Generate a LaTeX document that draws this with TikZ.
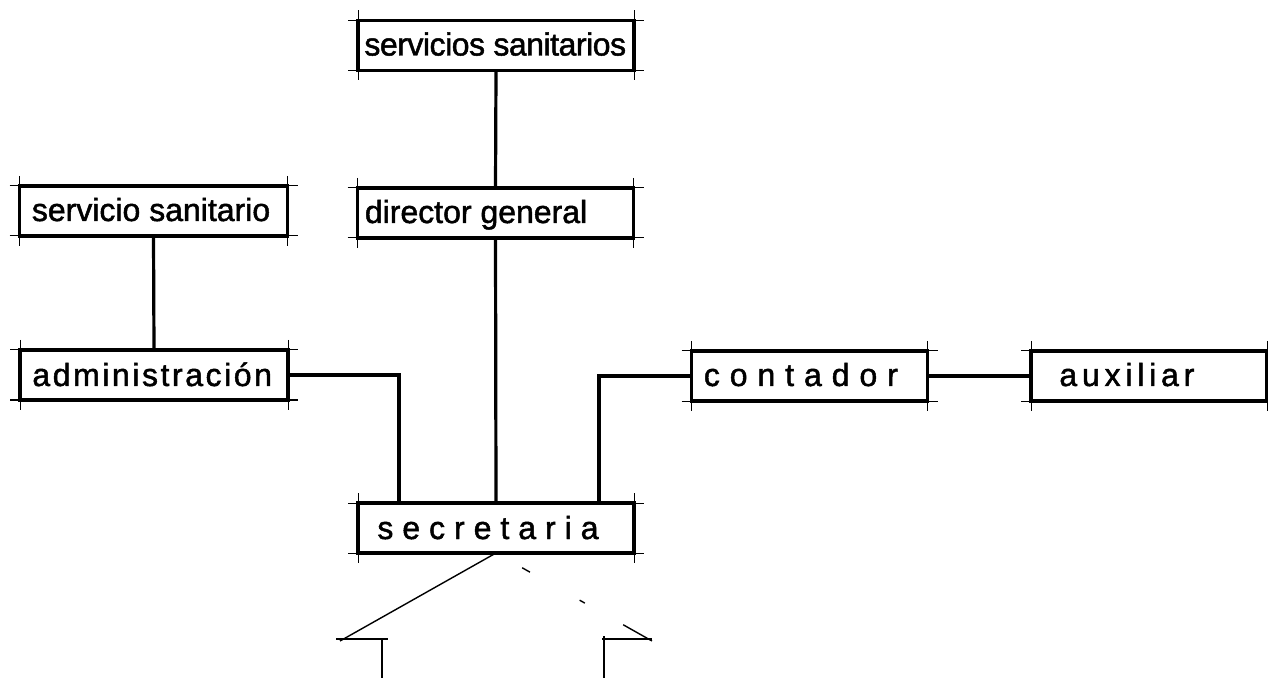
\documentclass[tikz,border=0pt]{standalone}
\usepackage{fontspec}
\setmainfont{Liberation Sans}
\usetikzlibrary{positioning}
\begin{document}
\begin{tikzpicture}[x=0.5pt,y=-0.5pt,
box/.style={draw, line width=1.7pt, outer sep=0pt, inner sep=0pt, minimum height=25pt},
wide/.style={box, minimum width=138pt},
side/.style={box, minimum width=134pt},
narrow/.style={box, minimum width=118pt},
lbl/.style={anchor=base west, inner sep=0pt, font=\fontsize{16}{18}\selectfont\addfontfeature{FakeBold=1.5}},
spaced/.style={font=\fontsize{16}{18}\selectfont\addfontfeature{FakeBold=1.5,LetterSpace=#1}},
link/.style={line width=1.6pt},
cornerline/.style={line width=0.5pt},
roof/.style={line width=0.7pt}]
\useasboundingbox (0,0) rectangle (1268,678);
% boxes
\node[wide] (servs) at (496,45.5) {};
\node[side] (serv) at (153.5,211) {};
\node[wide] (dir) at (495.5,213) {};
\node[side] (adm) at (154,375) {};
\node[wide] (sec) at (496,528) {};
\node[narrow] (cont) at (809.5,376) {};
\node[narrow] (aux) at (1149,376) {};
% labels
\node[lbl, spaced=-1.5] (servs-t) at ([xshift=3pt,yshift=-5pt]servs.west) {servicios sanitarios};
\node[lbl] (serv-t) at ([xshift=6pt,yshift=-5pt]serv.west) {servicio sanitario};
\node[lbl] (dir-t) at ([xshift=3.5pt,yshift=-5pt]dir.west) {director general};
\node[lbl, spaced=8] (adm-t) at ([xshift=6pt,yshift=-5.5pt]adm.west) {administración};
\node[lbl, spaced=28] (sec-t) at ([xshift=9.5pt,yshift=-5.5pt]sec.west) {secretaria};
\node[lbl, spaced=31] (cont-t) at ([xshift=6pt,yshift=-5pt]cont.west) {contador};
\node[lbl, spaced=15] (aux-t) at ([xshift=14pt,yshift=-5pt]aux.west) {auxiliar};
% corner marks
\foreach \b in {servs,serv,dir,adm,sec,cont,aux} {
  \draw[cornerline] ([xshift=-5pt]\b.north west) -- ([xshift=5pt]\b.north east);
  \draw[cornerline] ([xshift=-5pt]\b.south west) -- ([xshift=5pt]\b.south east);
  \draw[cornerline] ([yshift=5pt]\b.north west) -- ([yshift=-5pt]\b.south west);
  \draw[cornerline] ([yshift=5pt]\b.north east) -- ([yshift=-5pt]\b.south east);
}
% connectors
\draw[link] (servs.south) -- (dir.north);
\draw[link] (serv.south) -- (adm.north);
\draw[link] (dir.south) -- (sec.north);
\draw[link] (adm.east) -| ([xshift=-48.5pt]sec.north);
\draw[link] (cont.west) -| ([xshift=51.5pt]sec.north);
\draw[link] (cont.east) -- (aux.west);
% roof
\coordinate (eaveL) at (340,641);
\coordinate (eaveR) at (652,641);
\draw[roof] (sec.south) -- (eaveL);
\draw[roof, dash pattern=on 0pt off 15pt on 4.5pt off 28.5pt on 3pt off 22pt on 16.5pt off 10pt] (sec.south) -- (eaveR);
\draw[roof] (336,639) -- (388,639);
\draw[roof] (382,639) -- (382,678);
\draw[roof] (602,639) -- (652,639);
\draw[roof] (604,636) -- (604,678);
\end{tikzpicture}
\end{document}
